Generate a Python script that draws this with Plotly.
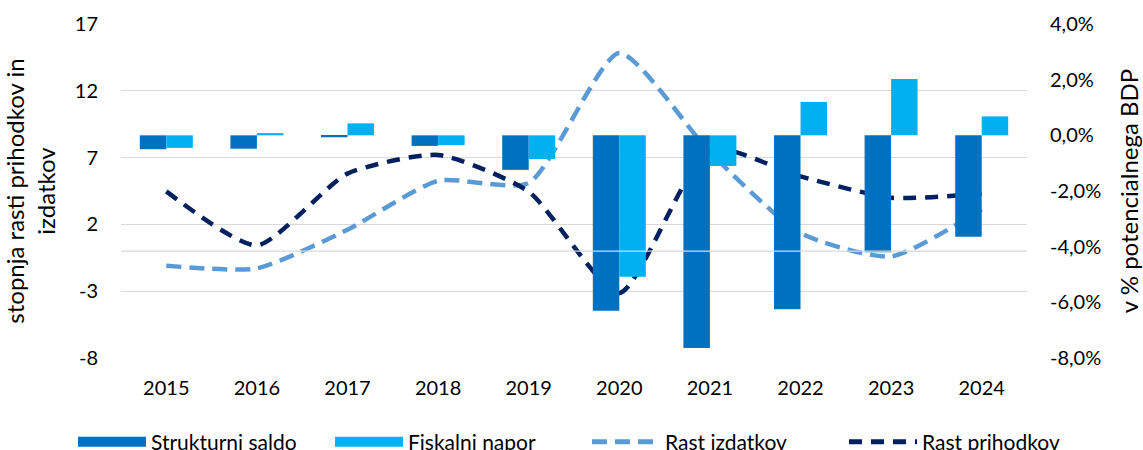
import plotly.graph_objects as go
from plotly.subplots import make_subplots

years = ["2015", "2016", "2017", "2018", "2019", "2020", "2021", "2022", "2023", "2024"]
strukturni_saldo = [-0.50, -0.48, -0.07, -0.38, -1.24, -6.30, -7.64, -6.25, -4.20, -3.64]
fiskalni_napor = [-0.45, 0.08, 0.43, -0.35, -0.85, -5.08, -1.10, 1.20, 2.02, 0.68]
rast_izdatkov = [-1.09, -1.29, 1.60, 5.27, 5.10, 14.83, 7.40, 1.35, -0.40, 3.15]
rast_prihodkov = [4.47, 0.43, 5.80, 7.20, 4.45, -3.14, 7.64, 5.59, 4.00, 4.30]

left_ticks = [-8, -3, 2, 7, 12, 17]
left_labels = ["-8", "-3", "2", "7", "12", "17"]
right_ticks = [-8, -6, -4, -2, 0, 2, 4]
right_labels = ["-8,0%", "-6,0%", "-4,0%", "-2,0%", "0,0%", "2,0%", "4,0%"]

FONT = "Lato"
fig = make_subplots(specs=[[{"secondary_y": True}]])

fig.add_trace(go.Bar(x=years, y=strukturni_saldo, name="Strukturni saldo",
                     marker=dict(color="#0070C0", line=dict(width=0)), showlegend=False),
              secondary_y=True)
fig.add_trace(go.Bar(x=years, y=fiskalni_napor, name="Fiskalni napor",
                     marker=dict(color="#00B0F0", line=dict(width=0)), showlegend=False),
              secondary_y=True)
fig.add_trace(go.Scatter(x=years, y=rast_izdatkov, name="Rast izdatkov", mode="lines",
                         line=dict(color="#5B9BD5", width=4.5, dash="15px,8px", shape="spline", smoothing=0.6),
                         showlegend=False),
              secondary_y=False)
fig.add_trace(go.Scatter(x=years, y=rast_prihodkov, name="Rast prihodkov", mode="lines",
                         line=dict(color="#002060", width=4.5, dash="13px,9px", shape="spline", smoothing=0.6),
                         showlegend=False),
              secondary_y=False)

# legend-only entries (no data) to get wide Excel-like legend keys
fig.add_trace(go.Scatter(x=[None], y=[None], name="Strukturni saldo", mode="lines",
                         line=dict(color="#0070C0", width=14)), secondary_y=True)
fig.add_trace(go.Scatter(x=[None], y=[None], name="Fiskalni napor", mode="lines",
                         line=dict(color="#00B0F0", width=14)), secondary_y=True)
fig.add_trace(go.Scatter(x=[None], y=[None], name="Rast izdatkov", mode="lines",
                         line=dict(color="#5B9BD5", width=5, dash="15px,8px")), secondary_y=False)
fig.add_trace(go.Scatter(x=[None], y=[None], name="Rast prihodkov", mode="lines",
                         line=dict(color="#002060", width=5, dash="13px,9px")), secondary_y=False)

fig.update_layout(
    width=1143, height=450, autosize=False,
    margin=dict(l=121, r=116, t=24, b=92, autoexpand=False),
    paper_bgcolor="white", plot_bgcolor="white",
    font=dict(family=FONT, size=20, color="#000000"),
    barmode="group", bargap=0.415, bargroupgap=0,
    showlegend=True,
    legend=dict(orientation="h", x=-0.053, xanchor="left", y=-0.252, yanchor="middle",
                font=dict(family=FONT, size=21, color="#000000"),
                itemwidth=68, entrywidth=174, entrywidthmode="pixels",
                traceorder="normal", bgcolor="rgba(0,0,0,0)"),
)

fig.update_xaxes(type="category", domain=[0, 1], showgrid=False, zeroline=False, showline=False,
                 ticks="outside", ticklen=12, tickcolor="rgba(0,0,0,0)",
                 tickfont=dict(family=FONT, size=20), automargin=False)
fig.update_yaxes(range=[-8, 17], tickvals=left_ticks, ticktext=left_labels,
                 showgrid=True, gridcolor="#D9D9D9",
                 gridwidth=1.3, zeroline=False, showline=False, automargin=False,
                 ticks="outside", ticklen=18, tickcolor="rgba(0,0,0,0)",
                 title=dict(text="stopnja rasti prihodkov in<br>izdatkov", standoff=12,
                            font=dict(family=FONT, size=24)),
                 secondary_y=False)
fig.update_yaxes(range=[-8, 4], tickvals=right_ticks, ticktext=right_labels,
                 showgrid=False, zeroline=False, showline=False, automargin=False,
                 ticks="outside", ticklen=18, tickcolor="rgba(0,0,0,0)",
                 title=dict(text="v % potencialnega BDP", standoff=20,
                            font=dict(family=FONT, size=24)),
                 secondary_y=True)

# category axis line crossing at 0 of the primary axis, drawn over the bars
fig.add_hline(y=0, line=dict(color="#D9D9D9", width=1.3), layer="above", secondary_y=False)

fig.write_html("out.html", config={"responsive": False, "displayModeBar": False},
               default_width="1143px", default_height="450px",
               post_script="document.body.style.margin='0';document.body.style.overflow='hidden';")
